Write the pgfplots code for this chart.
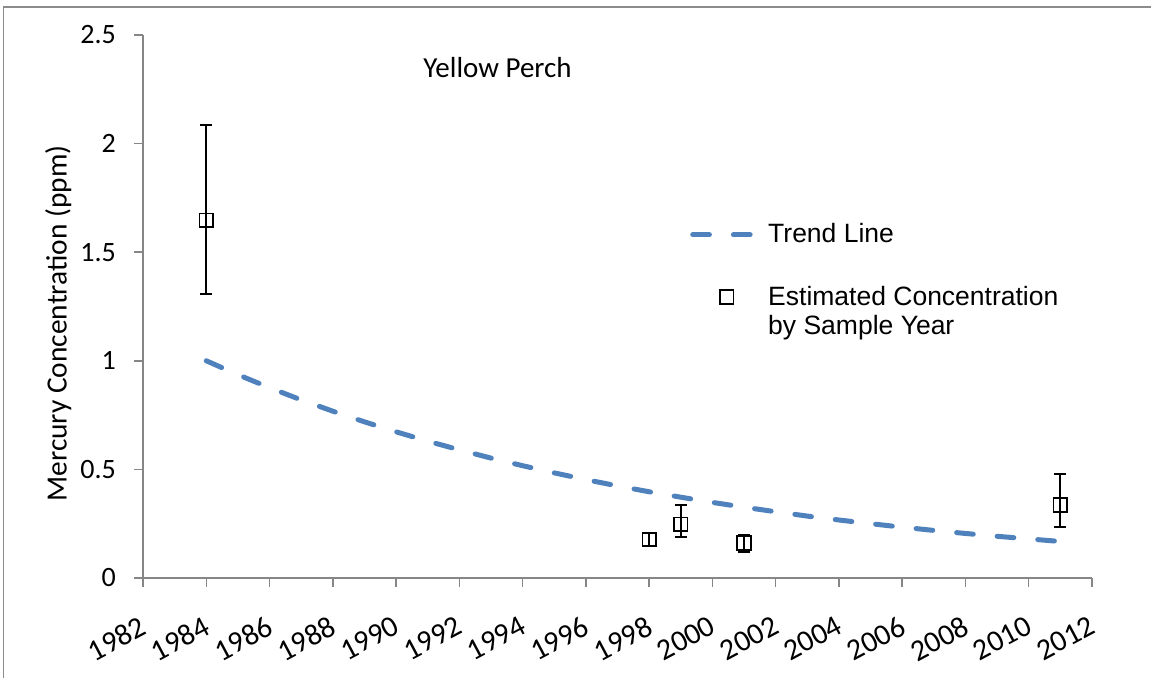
\documentclass[border=0pt]{standalone}
\usepackage{fontspec}
\setmainfont{Carlito}
\newfontfamily\arial{Liberation Sans}
\usepackage{pgfplots}
\pgfplotsset{compat=1.18}
\definecolor{axgray}{HTML}{868686}
\definecolor{framegray}{HTML}{8C8C8C}
\definecolor{trendblue}{HTML}{4F81BD}
\newcommand\tickfont{\fontsize{14}{16}\selectfont}
\newcommand\xtickfont{\fontsize{15}{17}\selectfont}
\pgfplotsset{
  linelegend/.style={legend image code/.code={\draw[##1] (0pt,0pt) -- (29pt,0pt);}},
  marklegend/.style={legend image code/.code={\draw[mark repeat=2,mark phase=2,##1] plot coordinates {(0pt,0pt) (17pt,0pt) (34pt,0pt)};}},
  every tick label/.append style={font=\tickfont},
}
\begin{document}
\begin{tikzpicture}
\useasboundingbox (0,0) rectangle (575.5pt,339pt);
\draw[framegray, line width=0.8pt] (1.75pt,-5pt) -- (1.75pt,335.5pt) -- (580pt,335.5pt);
\begin{axis}[
  at={(71.5pt,50pt)}, anchor=south west, scale only axis,
  width=474.5pt, height=271.5pt,
  xmin=1982, xmax=2012, ymin=0, ymax=2.5,
  axis x line=bottom, axis y line=left,
  axis line style={-, axgray, line width=0.75pt},
  tick align=outside, major tick length=4.5pt,
  tick style={axgray, line width=0.75pt},
  xtick={1982,1984,...,2012}, ytick={0,0.5,1,1.5,2,2.5},
  xticklabels={1982,1984,1986,1988,1990,1992,1994,1996,1998,2000,2002,2004,2006,2008,2010,2012},
  yticklabels={0,0.5,1,1.5,2,2.5},
  x tick label style={font=\xtickfont, black, rotate=28, anchor=north east, yshift=-8pt, xshift=-5pt},
  y tick label style={font=\tickfont, black, xshift=-5.5pt},
  legend style={at={(0.5762,0.6606)}, anchor=north west, draw=none, fill=none,
    font=\arial\fontsize{13.25}{14.5}\selectfont,
    cells={anchor=west, align=left}, row sep=16pt, column sep=5.5pt, inner sep=0pt},
  clip=false,
]
\addplot[trendblue, line width=2.5pt, line cap=round, dash pattern=on 8.35pt off 12pt, linelegend]
  coordinates {
  (1984,1.000) (1985,0.936) (1986,0.876) (1987,0.820) (1988,0.768) (1989,0.719)
  (1990,0.673) (1991,0.630) (1992,0.590) (1993,0.552) (1994,0.517) (1995,0.484)
  (1996,0.453) (1997,0.424) (1998,0.397) (1999,0.372) (2000,0.348) (2001,0.326)
  (2002,0.305) (2003,0.285) (2004,0.267) (2005,0.250) (2006,0.234) (2007,0.219)
  (2008,0.205) (2009,0.192) (2010,0.180) (2011,0.168)
  };
\addlegendentry{Trend Line}
\addplot[only marks, mark=square, mark size=3.4pt, black,
  mark options={line width=0.75pt, fill=none, solid}, marklegend,
  error bars/.cd, y dir=both, y explicit,
  error bar style={line width=0.9pt, black},
  error mark options={rotate=90, line width=0.9pt, black, mark size=3pt}]
  coordinates {
  (1984,1.647) += (0,0.437) -= (0,0.341)
  (1998,0.178) += (0,0.028) -= (0,0.028)
  (1999,0.248) += (0,0.088) -= (0,0.061)
  (2001,0.161) += (0,0.037) -= (0,0.041)
  (2011,0.336) += (0,0.141) -= (0,0.100)
  };
\addlegendentry{\rlap{\raisebox{-14.5pt}[0pt][0pt]{by Sample Year}}Estimated Concentration}
\end{axis}
\node[anchor=base, font=\fontsize{14.5}{16}\selectfont] at (248.75pt,300.35pt) {Yellow Perch};
\node[rotate=90, anchor=base, font=\fontsize{14.7}{16}\selectfont] at (33.35pt,177.25pt) {Mercury Concentration (ppm)};
\end{tikzpicture}
\end{document}
